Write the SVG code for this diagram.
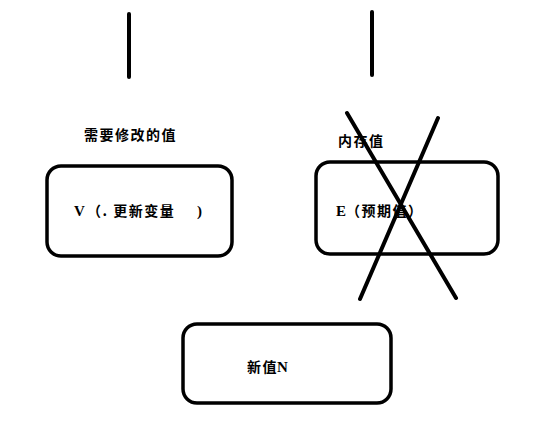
<svg xmlns="http://www.w3.org/2000/svg" width="554" height="426" viewBox="0 0 554 426">
<style>
.box{fill:#fff;stroke:#000;stroke-width:3.5}
.ln{stroke:#000;stroke-width:4;stroke-linecap:round;fill:none}
.t{font-family:"Noto Sans CJK SC","Liberation Serif",serif;font-size:14px;font-weight:bold;fill:#000;letter-spacing:1.5px}
.s{font-family:"Liberation Serif","Noto Sans CJK SC",serif;font-size:15px;font-weight:bold;fill:#000}
</style>
<rect width="554" height="426" fill="#fff"/>
<g id="marks">
<line class="ln" x1="129" y1="14" x2="129" y2="77"/>
<line class="ln" x1="372" y1="12" x2="372" y2="75"/>
</g>
<g id="node-v">
<text class="t" x="84" y="140">需要修改的值</text>
<rect class="box" x="47" y="166" width="185" height="90" rx="14"/>
<text class="s" x="74" y="216">V</text>
<text class="t" x="87" y="216">（. 更新变量</text>
<text class="s" x="197" y="216">)</text>
</g>
<g id="node-e">
<text class="t" x="338" y="146">内存值</text>
<rect class="box" x="316" y="162" width="182" height="92" rx="14"/>
<text class="s" x="336" y="216">E</text>
<text class="t" x="346" y="216">（预期值）</text>
</g>
<g id="node-n">
<rect class="box" x="183" y="324" width="208" height="79" rx="14"/>
<text class="t" x="247" y="372">新值</text>
<text class="s" x="277" y="372">N</text>
</g>
<g id="connectors">
<line class="ln" x1="347" y1="113" x2="456" y2="298"/>
<line class="ln" x1="438" y1="118" x2="360" y2="299"/>
</g>
</svg>
